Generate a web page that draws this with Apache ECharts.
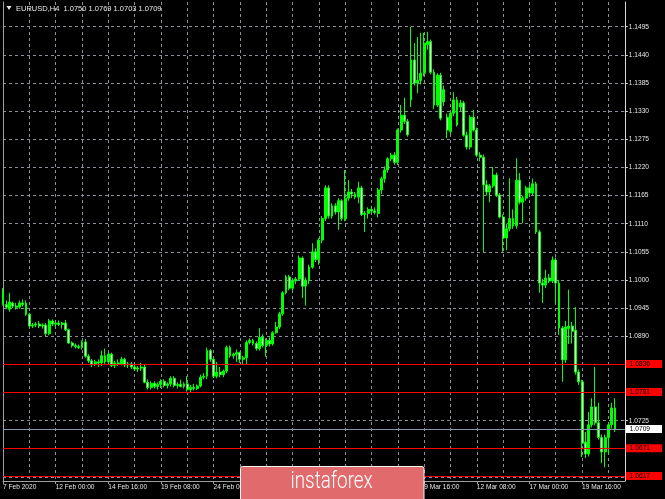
<!DOCTYPE html>
<html><head><meta charset="utf-8">
<script src="https://cdn.jsdelivr.net/npm/echarts@6/dist/echarts.min.js"></script>
<style>html,body{margin:0;padding:0;background:#000;}#c{width:665px;height:499px;}</style>
</head><body><div id="c"></div>
<script>
// ---- data ----
const titleText = 'EURUSD,H4  1.0750 1.0769 1.0703 1.0709';
const tickLabels = ['7 Feb 2020','12 Feb 00:00','14 Feb 16:00','19 Feb 08:00','24 Feb 00:00','26 Feb 16:00','2 Mar 08:00','5 Mar 00:00','9 Mar 16:00','12 Mar 08:00','17 Mar 00:00','19 Mar 16:00'];
const slotCount = 190;
const priceTicks = [1.0615,1.0670,1.0725,1.0780,1.0835,1.0890,1.0945,1.1000,1.1055,1.1110,1.1165,1.1220,1.1275,1.1330,1.1385,1.1440,1.1495];
const priceLabels = [1.0725,1.0890,1.0945,1.1000,1.1055,1.1110,1.1165,1.1220,1.1275,1.1330,1.1385,1.1440,1.1495];
const levelLines = [1.0836,1.0781,1.0671,1.0617];
const bidPrice = 1.0709;
const opens = [1.0978,1.0952,1.0943,1.0955,1.0949,1.0947,1.0955,1.0955,1.0933,1.0910,1.0912,1.0914,1.0910,1.0912,1.0895,1.0920,1.0914,1.0916,1.0913,1.0916,
1.0903,1.0877,1.0872,1.0870,1.0868,1.0879,1.0851,1.0842,1.0835,1.0840,1.0838,1.0852,1.0840,1.0855,1.0833,1.0838,1.0836,1.0845,1.0834,1.0836,
1.0830,1.0826,1.0828,1.0830,1.0800,1.0790,1.0798,1.0792,1.0796,1.0802,1.0794,1.0797,1.0808,1.0794,1.0796,1.0792,1.0797,1.0786,1.0790,1.0788,
1.0793,1.0810,1.0812,1.0862,1.0845,1.0812,1.0820,1.0815,1.0822,1.0868,1.0852,1.0855,1.0858,1.0845,1.0848,1.0878,1.0882,1.0876,1.0866,1.0888,
1.0872,1.0882,1.0875,1.0897,1.0908,1.0934,1.0975,1.1006,1.0984,1.0998,1.1002,1.1043,1.0988,1.1000,1.1025,1.1055,1.1040,1.1078,1.1120,1.1180,
1.1125,1.1145,1.1133,1.1155,1.1120,1.1160,1.1172,1.1168,1.1162,1.1180,1.1128,1.1130,1.1138,1.1135,1.1130,1.1176,1.1198,1.1215,1.1237,1.1244,
1.1230,1.1293,1.1322,1.1310,1.1352,1.1430,1.1385,1.1390,1.1404,1.1460,1.1466,1.1406,1.1342,1.1400,1.1348,1.1318,1.1290,1.1326,1.1352,1.1338,
1.1346,1.1283,1.1260,1.1318,1.1293,1.1244,1.1240,1.1186,1.1172,1.1184,1.1205,1.1166,1.1123,1.1082,1.1100,1.1120,1.1106,1.1195,1.1152,1.1160,
1.1180,1.1170,1.1188,1.1094,1.0994,1.0990,1.1004,1.0998,1.1039,1.0994,1.0906,1.0844,1.0905,1.0910,1.0902,1.0820,1.0801,1.0683,1.0660,1.0717,
1.0752,1.0721,1.0692,1.0664,1.0692,1.0717,1.0750];
const highs = [1.0984,1.0960,1.0975,1.0958,1.0955,1.0960,1.0962,1.0960,1.0936,1.0916,1.0918,1.0920,1.0915,1.0916,1.0924,1.0923,1.0920,1.0921,1.0918,1.0922,
1.0905,1.0880,1.0876,1.0874,1.0882,1.0885,1.0855,1.0846,1.0844,1.0845,1.0862,1.0866,1.0858,1.0858,1.0842,1.0845,1.0850,1.0848,1.0840,1.0840,
1.0836,1.0832,1.0838,1.0836,1.0806,1.0802,1.0802,1.0800,1.0806,1.0806,1.0800,1.0812,1.0812,1.0800,1.0805,1.0800,1.0812,1.0795,1.0797,1.0796,
1.0815,1.0818,1.0868,1.0865,1.0848,1.0840,1.0830,1.0825,1.0872,1.0872,1.0858,1.0864,1.0860,1.0852,1.0882,1.0886,1.0885,1.0880,1.0906,1.0894,
1.0886,1.0888,1.0900,1.0918,1.0938,1.0978,1.1010,1.1010,1.1002,1.1006,1.1048,1.1046,1.1005,1.1030,1.1072,1.1062,1.1082,1.1125,1.1185,1.1185,
1.1150,1.1150,1.1160,1.1158,1.1215,1.1195,1.1178,1.1172,1.1192,1.1184,1.1135,1.1142,1.1145,1.1142,1.1180,1.1202,1.1222,1.1240,1.1248,1.1250,
1.1296,1.1342,1.1356,1.1315,1.1495,1.1463,1.1475,1.1483,1.1483,1.1485,1.1470,1.1412,1.1404,1.1405,1.1380,1.1325,1.1330,1.1367,1.1358,1.1352,
1.1350,1.1290,1.1322,1.1332,1.1298,1.1250,1.1245,1.1195,1.1188,1.1221,1.1210,1.1170,1.1128,1.1110,1.1199,1.1138,1.1238,1.1209,1.1165,1.1184,
1.1186,1.1198,1.1192,1.1098,1.1002,1.1020,1.1012,1.1046,1.1044,1.1000,1.0910,1.0920,1.0981,1.0918,1.0947,1.0825,1.0805,1.0703,1.0742,1.0769,
1.0830,1.0760,1.0698,1.0698,1.0722,1.0760,1.0769];
const lows = [1.0950,1.0943,1.0938,1.0945,1.0942,1.0944,1.0948,1.0930,1.0905,1.0906,1.0908,1.0906,1.0905,1.0890,1.0892,1.0910,1.0908,1.0910,1.0905,1.0900,
1.0875,1.0868,1.0866,1.0865,1.0864,1.0848,1.0838,1.0830,1.0832,1.0830,1.0832,1.0836,1.0835,1.0830,1.0828,1.0832,1.0833,1.0830,1.0828,1.0826,
1.0822,1.0820,1.0822,1.0798,1.0786,1.0786,1.0788,1.0786,1.0789,1.0790,1.0788,1.0792,1.0790,1.0788,1.0790,1.0788,1.0782,1.0780,1.0784,1.0785,
1.0790,1.0806,1.0806,1.0840,1.0808,1.0808,1.0810,1.0810,1.0818,1.0848,1.0846,1.0840,1.0838,1.0836,1.0835,1.0874,1.0872,1.0862,1.0862,1.0868,
1.0850,1.0870,1.0872,1.0895,1.0904,1.0930,1.0972,1.0980,1.0980,1.0992,1.0998,1.0965,1.0950,1.0992,1.1022,1.1035,1.1030,1.1072,1.1115,1.1120,
1.1120,1.1128,1.1098,1.1115,1.1115,1.1155,1.1160,1.1158,1.1150,1.1125,1.1094,1.1120,1.1130,1.1128,1.1122,1.1168,1.1190,1.1210,1.1232,1.1225,
1.1225,1.1288,1.1305,1.1280,1.1338,1.1380,1.1365,1.1382,1.1398,1.1450,1.1402,1.1334,1.1338,1.1312,1.1340,1.1277,1.1284,1.1320,1.1300,1.1330,
1.1280,1.1255,1.1255,1.1290,1.1240,1.1232,1.1055,1.1165,1.1152,1.1180,1.1162,1.1120,1.1055,1.1058,1.1095,1.1100,1.1100,1.1148,1.1111,1.1155,
1.1164,1.1166,1.1090,1.0975,1.0955,1.0984,1.0994,1.0994,1.0955,1.0893,1.0801,1.0838,1.0875,1.0876,1.0815,1.0795,1.0654,1.0652,1.0655,1.0712,
1.0716,1.0688,1.0642,1.0634,1.0660,1.0710,1.0703];
const closes = [1.0952,1.0947,1.0957,1.0949,1.0947,1.0955,1.0952,1.0933,1.0910,1.0912,1.0914,1.0910,1.0912,1.0895,1.0920,1.0914,1.0916,1.0913,1.0916,1.0903,
1.0877,1.0872,1.0870,1.0868,1.0879,1.0851,1.0842,1.0835,1.0840,1.0838,1.0852,1.0840,1.0855,1.0833,1.0838,1.0836,1.0845,1.0834,1.0836,1.0830,
1.0826,1.0828,1.0830,1.0800,1.0790,1.0798,1.0792,1.0796,1.0802,1.0794,1.0797,1.0808,1.0794,1.0796,1.0792,1.0797,1.0786,1.0790,1.0788,1.0793,
1.0810,1.0812,1.0862,1.0845,1.0812,1.0820,1.0815,1.0822,1.0868,1.0852,1.0855,1.0858,1.0845,1.0848,1.0878,1.0882,1.0876,1.0866,1.0888,1.0872,
1.0882,1.0875,1.0897,1.0908,1.0934,1.0975,1.1006,1.0984,1.0998,1.1002,1.1043,1.0988,1.1000,1.1025,1.1055,1.1040,1.1078,1.1120,1.1180,1.1125,
1.1145,1.1133,1.1155,1.1120,1.1160,1.1172,1.1168,1.1162,1.1180,1.1128,1.1130,1.1138,1.1135,1.1132,1.1176,1.1198,1.1215,1.1237,1.1244,1.1230,
1.1293,1.1322,1.1310,1.1284,1.1430,1.1385,1.1390,1.1404,1.1463,1.1466,1.1406,1.1342,1.1400,1.1316,1.1372,1.1293,1.1326,1.1352,1.1303,1.1346,
1.1283,1.1260,1.1318,1.1293,1.1244,1.1240,1.1186,1.1172,1.1184,1.1205,1.1166,1.1123,1.1082,1.1100,1.1120,1.1106,1.1195,1.1152,1.1160,1.1180,
1.1170,1.1188,1.1094,1.0994,1.0990,1.1004,1.0998,1.1039,1.0994,1.0906,1.0844,1.0908,1.0910,1.0900,1.0820,1.0801,1.0681,1.0660,1.0717,1.0752,
1.0721,1.0692,1.0664,1.0692,1.0717,1.0750,1.0709];

// ---- build ----
const categories = Array.from({length: slotCount}, (_, i) => String(i));
const candles = opens.map((o, i) => [o, closes[i], lows[i], highs[i]]);
// grid lines hidden under a level line are left out (they are covered in the original)
const gridTicks = priceTicks.filter(t => !levelLines.some(l => Math.abs(l - t) < 0.00015));
const yMin = 1.06072, yMax = 1.15433;
const FONT = 'Liberation Sans';
const GRID_COLOR = '#8a8f99';
const chart = echarts.init(document.getElementById('c'), null, {renderer: 'canvas'});
const overlayAxis = (values, lineColor, labelBg, z) => ({
  type: 'value', min: yMin, max: yMax, position: 'right', z: z,
  axisLine: {show: false},
  axisTick: {show: false, customValues: values},
  splitLine: {show: true, lineStyle: {color: lineColor, width: 1, type: 'solid'}},
  axisLabel: {customValues: values, margin: 1, color: '#000000', backgroundColor: labelBg,
    padding: [1, 12, 0, 4], fontSize: 6.6, lineHeight: 7, fontFamily: FONT, formatter: v => Number(v).toFixed(4)}
});

chart.setOption({
  backgroundColor: '#000000',
  animation: false,
  grid: {left: 2, right: 34, top: 2, bottom: 18, containLabel: false},
  xAxis: {
    type: 'category', data: categories, boundaryGap: false,
    axisLine: {show: true, onZero: false, lineStyle: {color: '#a0a0a0', width: 1}},
    axisTick: {show: true, interval: 15, length: 3, lineStyle: {color: '#a0a0a0'}},
    axisLabel: {
      interval: 15, align: 'left', margin: 3, color: '#e6e6e6',
      fontSize: 6.6, fontFamily: FONT,
      formatter: (v, i) => tickLabels[i / 16] || ''
    },
    splitLine: {show: true, interval: 7, lineStyle: {color: GRID_COLOR, type: [3, 3], width: 1}}
  },
  yAxis: [
    {
      type: 'value', min: yMin, max: yMax, position: 'right',
      axisLine: {show: true, onZero: false, lineStyle: {color: '#d8d8d8', width: 1}},
      axisTick: {show: true, customValues: gridTicks, length: 3, lineStyle: {color: '#d8d8d8'}},
      axisLabel: {customValues: priceLabels, margin: 4, color: '#e6e6e6', fontSize: 6.6, fontFamily: FONT,
        formatter: v => Number(v).toFixed(4)},
      splitLine: {show: true, lineStyle: {color: GRID_COLOR, type: [3, 3], width: 1}}
    },
    {
      type: 'value', min: yMin, max: yMax, position: 'left',
      axisLine: {show: true, onZero: false, lineStyle: {color: '#a0a0a0', width: 1}},
      axisTick: {show: false}, axisLabel: {show: false}, splitLine: {show: false}
    },
    overlayAxis([bidPrice], '#8796aa', '#ffffff', 5),
    overlayAxis(levelLines, '#ff0000', '#ff0000', 6)
  ],
  series: [{
    type: 'candlestick', data: candles, xAxisIndex: 0, yAxisIndex: 0,
    barWidth: 2.4,
    itemStyle: {color: '#00ff00', color0: '#e8ffe8', borderColor: '#00ff00', borderColor0: '#00ff00', borderWidth: 1}
  }],
  graphic: [
    {type: 'polygon', shape: {points: [[6.5, 6], [11.5, 6], [9, 10]]}, style: {fill: '#e8e8e8'}, z: 100},
    {type: 'text', x: 16, y: 8.5, style: {text: titleText, fill: '#e8e8e8', font: '7.5px "Liberation Sans"', verticalAlign: 'middle'}, z: 100},
    {type: 'rect', shape: {x: 240.5, y: 466.5, width: 183.5, height: 40, r: 2}, style: {fill: '#e06a6c', stroke: '#f4f4f4', lineWidth: 1}, z: 100},
    {type: 'text', x: 290.5, y: 482.5, scaleX: 0.82, style: {text: 'instaforex', fill: '#ffffff', font: '300 23px Roboto', verticalAlign: 'middle'}, z: 101}
  ]
});
</script></body></html>
